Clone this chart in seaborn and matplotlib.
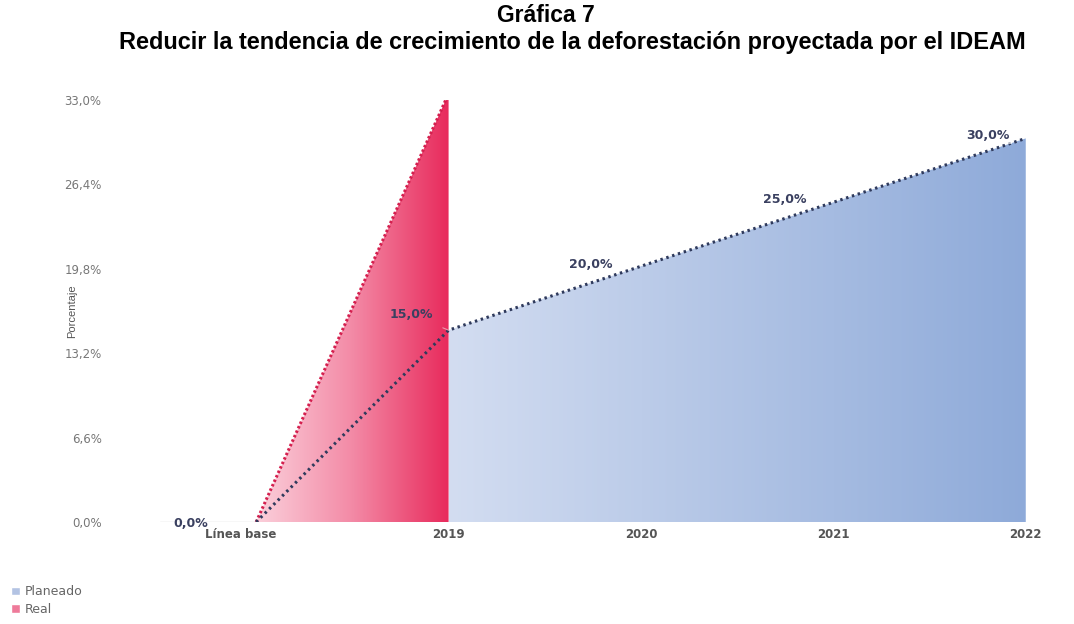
import numpy as np
import pandas as pd
import seaborn as sns
import matplotlib.pyplot as plt
from matplotlib.patches import Patch
from matplotlib.colors import LinearSegmentedColormap

# Datos
categorias = ['Línea base', '2019', '2020', '2021', '2022']
planeado = [0.0, 15.0, 20.0, 25.0, 30.0]
real = [0.0, 33.5]  # el valor real se sale del eje (recortado en 33%)
ticks_y = [0.0, 6.6, 13.2, 19.8, 26.4, 33.0]

df_plan = pd.DataFrame({'x': range(len(categorias)), 'valor': planeado})
df_real = pd.DataFrame({'x': range(len(real)), 'valor': real})

sns.set_style('white')
plt.rcParams['font.family'] = ['DejaVu Sans']

fig = plt.figure(figsize=(10.74, 6.24), dpi=100, facecolor='white')
ax = fig.add_axes([160 / 1074, 1 - 522 / 624, 885 / 1074, 422 / 624])
ax.set_xlim(-0.5, 4.1)
ax.set_ylim(0, 33)

# Área planeada con degradado (desde 2019)
cmap_azul = LinearSegmentedColormap.from_list('azul', ['#d3ddf1', '#8eaad9'])
poly = ax.fill_between(df_plan['x'], df_plan['valor'], 0, color='none', lw=0)
grad = np.linspace(0, 1, 256).reshape(1, -1)
img = ax.imshow(grad, cmap=cmap_azul, aspect='auto', extent=[1, 4, 0, 33], zorder=1)
img.set_clip_path(poly.get_paths()[0], transform=ax.transData)

# Área real con degradado
cmap_rojo = LinearSegmentedColormap.from_list('rojo', ['#fbd0db', '#f38aa6', '#e82a5c'])
poly_r = ax.fill_between(df_real['x'], df_real['valor'], 0, color='none', lw=0)
img_r = ax.imshow(grad, cmap=cmap_rojo, aspect='auto', extent=[0, 1, 0, 33], zorder=2)
img_r.set_clip_path(poly_r.get_paths()[0], transform=ax.transData)

# Líneas punteadas
sns.lineplot(data=df_real, x='x', y='valor', ax=ax, color='#d41f4e', lw=2.2,
             linestyle=(0, (0.8, 0.8)), zorder=3)
sns.lineplot(data=df_plan, x='x', y='valor', ax=ax, color='#2f3a5c', lw=2.2,
             linestyle=(0, (0.8, 1.2)), zorder=4)

# Línea base gris
ax.plot([-0.5, 0], [0, 0], color='#d8d8d8', lw=1, zorder=2)

# Etiquetas de datos
lbl = dict(fontsize=9, color='#3a4060', fontweight='semibold', zorder=5)
caja = dict(boxstyle='square,pad=0.15', fc='white', ec='none', alpha=0.6)
desplaz = [(-47, -1), (-27, 11), (-36, 1), (-35, 2), (-27, 2)]
for i, v in enumerate(planeado):
    txt = f'{v:.1f}%'.replace('.', ',')
    if i == 1:
        ax.annotate(txt, (i, v), xytext=desplaz[i], textcoords='offset points', ha='center', va='center',
                    arrowprops=dict(arrowstyle='-', color='#e89aaa', lw=0.8, shrinkA=6, shrinkB=0), **lbl)
    else:
        ax.annotate(txt, (i, v), xytext=desplaz[i], textcoords='offset points', ha='center', va='center',
                    bbox=caja if i > 1 else None, **lbl)

# Ejes (la primera etiqueta va un poco a la izquierda, como en el original)
estilo_x = dict(fontsize=8.5, fontweight='bold', color='#555555')
ax.set_xticks(range(len(categorias)))
ax.set_xticklabels([''] + categorias[1:], **estilo_x)
ax.annotate(categorias[0], (0, 0), xycoords=('data', 'axes fraction'), xytext=(-11, -4),
            textcoords='offset points', ha='center', va='top', **estilo_x)
ax.set_yticks(ticks_y)
ax.set_yticklabels([f'{v:.1f}%'.replace('.', ',') for v in ticks_y], fontsize=8.5, color='#777777')
ax.tick_params(axis='y', length=0, pad=42)
ax.tick_params(axis='x', length=0, pad=4)
for s in ax.spines.values():
    s.set_visible(False)
ax.set_xlabel('')
ax.set_ylabel('Porcentaje', fontsize=8, color='#555555', family=['Liberation Sans', 'DejaVu Sans'])
ax.yaxis.set_label_coords(-0.094, 0.5)

# Títulos
fig.text(0.508, 1 - 15 / 624, 'Gráfica 7', ha='center', va='center', fontsize=16.5, fontweight='bold',
         color='black', family=['Liberation Sans', 'DejaVu Sans'])
fig.text(0.533, 1 - 43 / 624, 'Reducir la tendencia de crecimiento de la deforestación proyectada por el IDEAM',
         ha='center', va='center', fontsize=16.9, fontweight='bold', color='black',
         family=['Liberation Sans', 'DejaVu Sans'])

# Leyenda
handles = [Patch(facecolor='#b3c3e3', label='Planeado'), Patch(facecolor='#ee7a9a', label='Real')]
fig.legend(handles=handles, loc='lower left', bbox_to_anchor=(0.0, -0.005), frameon=False,
           fontsize=9, labelcolor='#666666', handlelength=0.7, handleheight=0.7,
           handletextpad=0.4, labelspacing=0.35)

plt.savefig('out.png', dpi=100, facecolor='white')
plt.close()
